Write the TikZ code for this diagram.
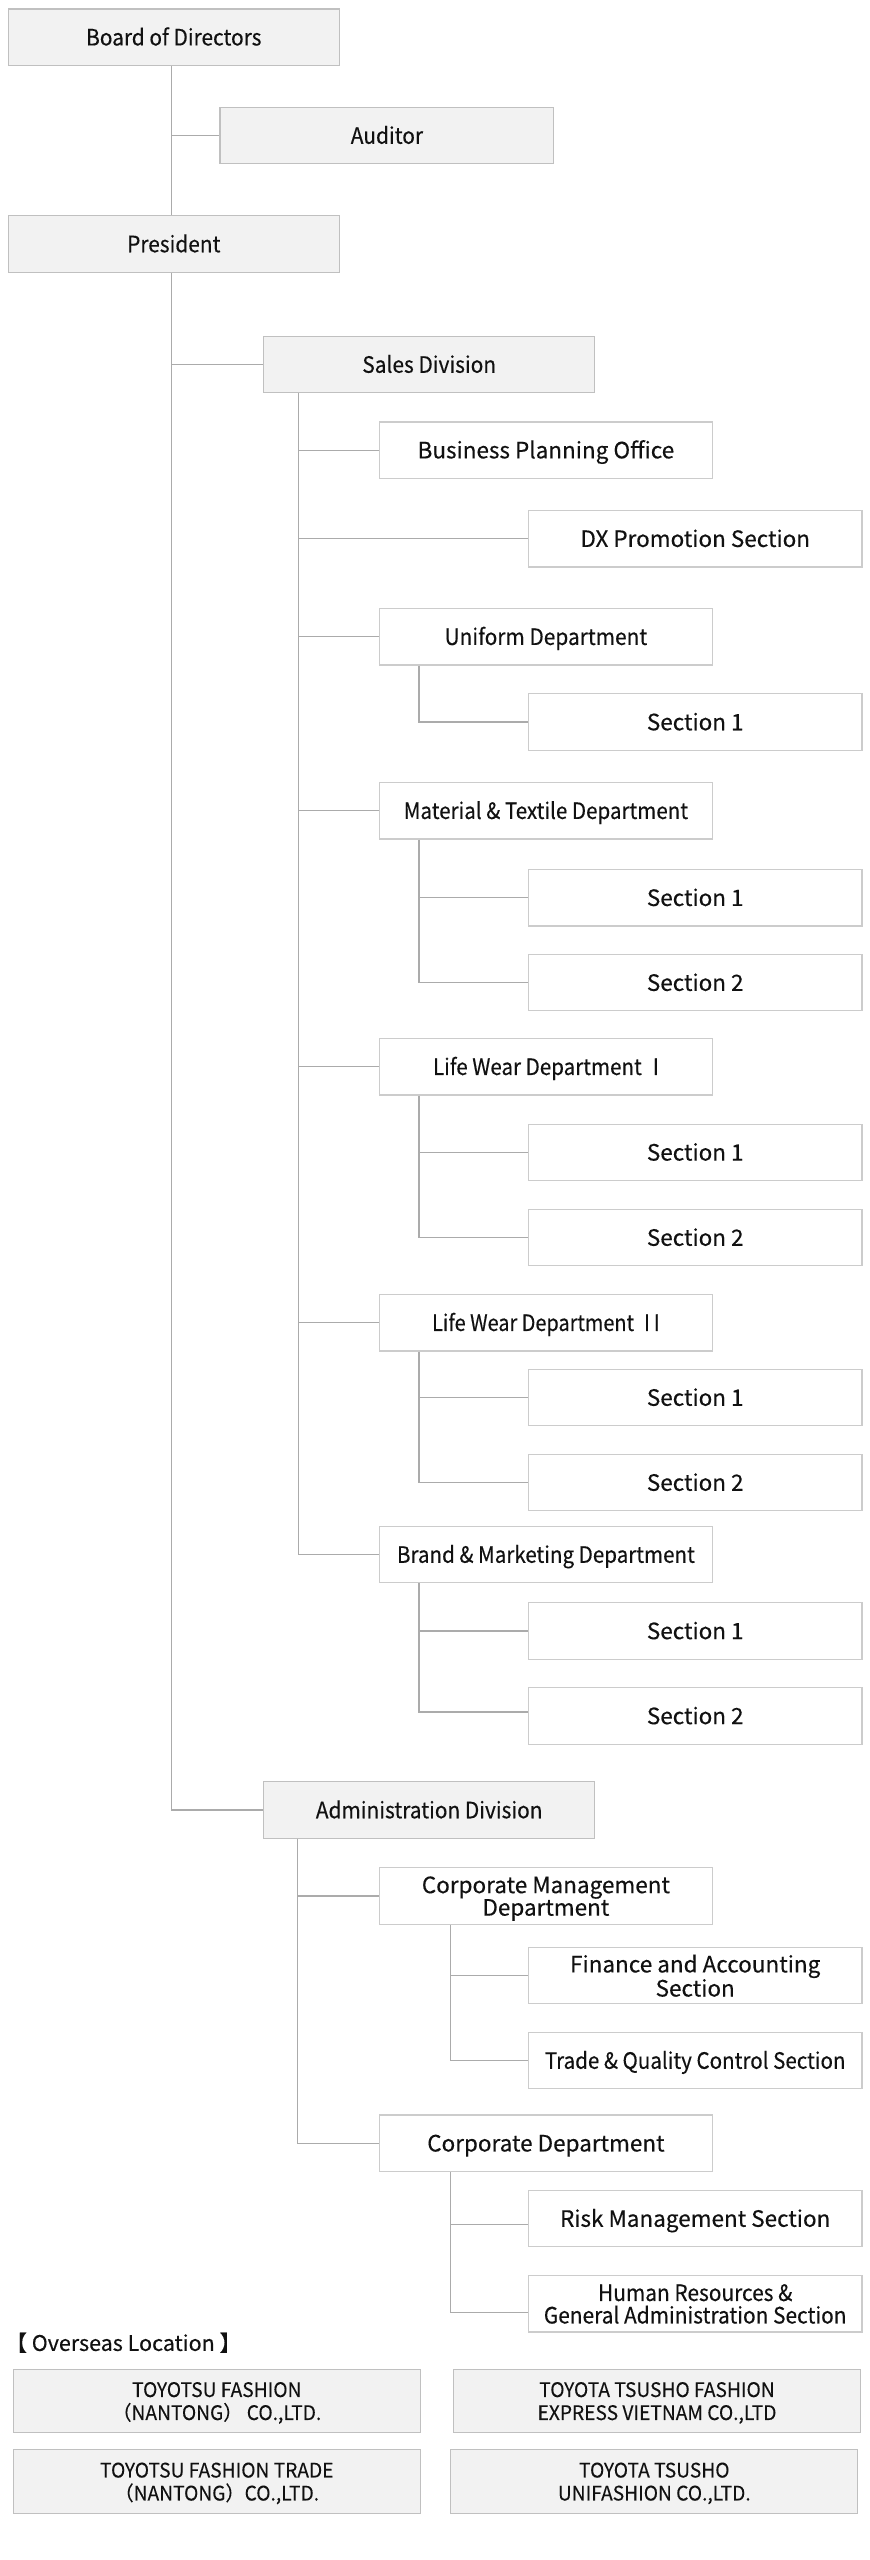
\documentclass[tikz,border=0pt]{standalone}
\usepackage{fontspec}
\setmainfont[FakeBold=0.3]{Noto Sans CJK JP}
\newfontfamily\cfa[FakeStretch=0.928,FakeBold=0.3]{Noto Sans CJK JP}
\newfontfamily\cfb[FakeStretch=0.915,FakeBold=0.3]{Noto Sans CJK JP}
\newfontfamily\cfc[FakeStretch=0.885,FakeBold=0.3]{Noto Sans CJK JP}
\newfontfamily\cfo[FakeStretch=0.96,FakeBold=0.15]{Noto Sans CJK JP}
\definecolor{fillg}{HTML}{F2F2F2}
\definecolor{grayline}{HTML}{C0C0C0}
\definecolor{boxline}{HTML}{CCCCCC}
\definecolor{connline}{HTML}{ABABAB}
\definecolor{txt}{HTML}{111111}
\newcommand\mysz{\fontsize{22.5pt}{22.5pt}\selectfont}
\newcommand\myosz{\fontsize{20pt}{23pt}\selectfont}
\newcommand\mylsz{\fontsize{21.5pt}{21.5pt}\selectfont}
\tikzset{
  graybase/.style={draw=grayline, fill=fillg, line width=1.2pt, minimum width=331pt,
    minimum height=56.4pt, inner sep=0pt, font=\cfa\mysz, text=txt},
  whitebase/.style={draw=boxline, fill=white, line width=1.2pt, minimum width=333.5pt,
    minimum height=56.4pt, inner sep=0pt, font=\mysz, text=txt},
  oneline/.style={text height=16.5pt, text depth=0pt},
  graybox/.style={graybase, oneline},
  whitebox/.style={whitebase, oneline},
  whitetwo/.style={whitebase, align=center, text depth=0pt},
  conda/.style={font=\cfa\mysz},
  condb/.style={font=\cfb\mysz},
  condc/.style={font=\cfc\mysz},
  obox/.style={graybase, minimum width=407pt, minimum height=63.4pt, font=\cfo\myosz,
    align=center, text depth=-5.3pt},
  conn/.style={draw=connline, line width=1.2pt},
}
\begin{document}
\begin{tikzpicture}[x=1pt,y=-1pt]
\useasboundingbox (0,0) rectangle (870,2560);
\fill[white] (0,0) rectangle (870,2560);

% top level
\node[graybox] (board) at (173.8,37.2) {Board of Directors};
\node[graybox, minimum width=333.8pt] (auditor) at (386.9,135.5) {Auditor};
\node[graybox] (pres) at (173.8,244) {President};
\node[graybox] (sales) at (429.2,364.5) {Sales Division};
\node[graybox] (admin) at (429.2,1810) {Administration Division};

% sales division
\node[whitebox] (bpo) at (545.9,450.1) {Business Planning Office};
\node[whitebox] (dx) at (695.2,538.7) {DX Promotion Section};
\node[whitebox, conda] (uni) at (545.9,636.7) {Uniform Department};
\node[whitebox] (us1) at (695.2,722) {Section 1};
\node[whitebox, condb] (mat) at (545.9,810.7) {Material \& Textile Department};
\node[whitebox] (ms1) at (695.2,897.7) {Section 1};
\node[whitebox] (ms2) at (695.2,982.6) {Section 2};
\node[whitebox, condb] (lw1) at (545.9,1066.7) {Life Wear Department\hspace{11pt}I};
\node[whitebox] (l1s1) at (695.2,1152.3) {Section 1};
\node[whitebox] (l1s2) at (695.2,1237.5) {Section 2};
\node[whitebox, condc] (lw2) at (545.9,1322.7) {Life Wear Department\hspace{10pt}I\hspace{4pt}I};
\node[whitebox] (l2s1) at (695.2,1397.5) {Section 1};
\node[whitebox] (l2s2) at (695.2,1482.5) {Section 2};
\node[whitebox, condb] (bm) at (545.9,1554.5) {Brand \& Marketing Department};
\node[whitebox] (bms1) at (695.2,1630.9) {Section 1};
\node[whitebox] (bms2) at (695.2,1715.9) {Section 2};

% administration division
\node[whitetwo] (cmd) at (545.9,1896) {Corporate Management\\Department};
\node[whitetwo] (fa) at (695.2,1975.5) {Finance and Accounting\\Section};
\node[whitebox, condb] (tq) at (695.2,2060.5) {Trade \& Quality Control Section};
\node[whitebox] (corp) at (545.9,2143.2) {Corporate Department};
\node[whitebox] (risk) at (695.2,2218.5) {Risk Management Section};
\node[whitetwo, conda] (hr) at (695.2,2303.8) {Human Resources \&\\General Administration Section};

% overseas
\node[anchor=west, inner sep=0pt, font=\mylsz, text=txt, text height=15.8pt, text depth=0pt]
  (ovl) at (5.3,2343) {【 Overseas Location 】};
\node[obox] (o1) at (216.8,2401) {TOYOTSU FASHION\\（NANTONG） CO.,LTD.};
\node[obox] (o2) at (216.8,2481.5) {TOYOTSU FASHION TRADE\\（NANTONG）CO.,LTD.};
\node[obox] (o3) at (657,2401) {TOYOTA TSUSHO FASHION\\EXPRESS VIETNAM CO.,LTD};
\node[obox] (o4) at (654.3,2481.5) {TOYOTA TSUSHO\\UNIFASHION CO.,LTD.};

% main trunk
\coordinate (bt) at ([xshift=-2.5pt]board.south);
\coordinate (pt) at ([xshift=-2.5pt]pres.south);
\draw[conn] (bt) -- ([xshift=-2.5pt]pres.north);
\draw[conn] (bt |- auditor.west) -- (auditor.west);
\draw[conn] (pt) |- (admin.west);
\draw[conn] (pt |- sales.west) -- (sales.west);

% sales trunk
\coordinate (st) at ([xshift=35.3pt]sales.south west);
\draw[conn] (st) |- (bm.west);
\foreach \n in {bpo,dx,uni,mat,lw1,lw2}{
  \draw[conn] (st |- \n.west) -- (\n.west);
}
% department sub-trunks
\coordinate (ut) at ([xshift=40.4pt]uni.south west);
\draw[conn] (ut) |- (us1.west);
\coordinate (mt) at ([xshift=40.4pt]mat.south west);
\draw[conn] (mt) |- (ms2.west);
\draw[conn] (mt |- ms1.west) -- (ms1.west);
\coordinate (l1t) at ([xshift=40.4pt]lw1.south west);
\draw[conn] (l1t) |- (l1s2.west);
\draw[conn] (l1t |- l1s1.west) -- (l1s1.west);
\coordinate (l2t) at ([xshift=40.4pt]lw2.south west);
\draw[conn] (l2t) |- (l2s2.west);
\draw[conn] (l2t |- l2s1.west) -- (l2s1.west);
\coordinate (bmt) at ([xshift=40.4pt]bm.south west);
\coordinate (bm2) at ([yshift=4pt]bms2.west);
\draw[conn] (bmt) |- (bm2);
\draw[conn] (bmt |- bms1.west) -- (bms1.west);

% admin trunk
\coordinate (at) at ([xshift=34.5pt]admin.south west);
\draw[conn] (at) |- (corp.west);
\draw[conn] (at |- cmd.west) -- (cmd.west);
\coordinate (ct) at ([xshift=72pt]cmd.south west);
\draw[conn] (ct) |- (tq.west);
\draw[conn] (ct |- fa.west) -- (fa.west);
\coordinate (cpt) at ([xshift=72pt]corp.south west);
\coordinate (rk) at ([yshift=-6pt]risk.west);
\coordinate (hk) at ([yshift=-9pt]hr.west);
\draw[conn] (cpt) |- (hk);
\draw[conn] (cpt |- rk) -- (rk);
\end{tikzpicture}
\end{document}
